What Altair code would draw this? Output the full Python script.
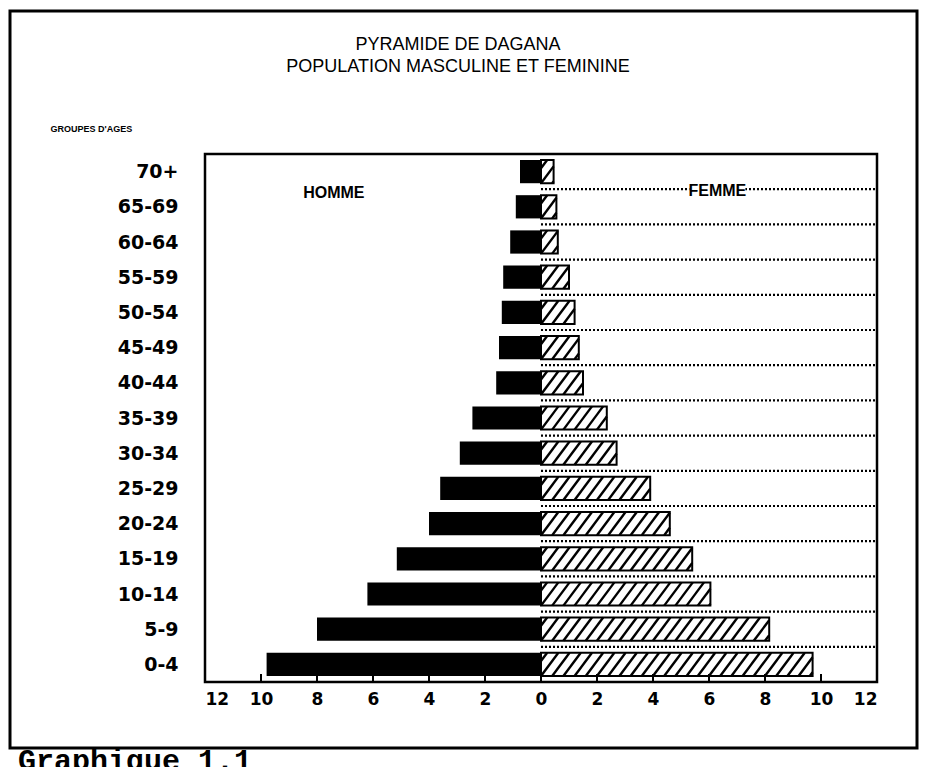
import altair as alt
import pandas as pd

# ---------------- data ----------------
ages = ["0-4", "5-9", "10-14", "15-19", "20-24", "25-29", "30-34", "35-39",
        "40-44", "45-49", "50-54", "55-59", "60-64", "65-69", "70+"]
homme = [9.8, 8.0, 6.2, 5.15, 4.0, 3.6, 2.9, 2.45, 1.6, 1.5, 1.4, 1.35, 1.1, 0.9, 0.75]
femme = [9.7, 8.15, 6.05, 5.4, 4.6, 3.9, 2.7, 2.35, 1.5, 1.35, 1.2, 1.0, 0.6, 0.55, 0.45]
x_ticks = [-12, -10, -8, -6, -4, -2, 0, 2, 4, 6, 8, 10, 12]
inner_ticks = [-10, -8, -6, -4, -2, 0, 2, 4, 6, 8, 10]
title_lines = ["PYRAMIDE DE DAGANA", "POPULATION MASCULINE ET FEMININE"]
y_title = "GROUPES D'AGES"
label_h = "HOMME"
label_f = "FEMME"
caption = "Graphique 1.1"

# ---------------- layout / style ----------------
W, H = 672, 528
HH = 0.33      # half bar thickness (band units)
DX = 0.62      # hatch horizontal run across the bar
STEP = 0.40    # hatch spacing
LABEL_FONT = "DejaVu Sans"
TITLE_FONT = "Liberation Sans Narrow, Liberation Sans"

df = pd.DataFrame({"idx": list(range(len(ages))), "age": ages,
                   "homme": homme, "femme": femme})
one = pd.DataFrame({"k": [0]})

xs = alt.Scale(domain=[-12, 12], nice=False, zero=False)
ys = alt.Scale(domain=[-0.5, len(ages) - 0.5], nice=False, zero=False)
label_expr = "[" + ",".join("'" + a + "'" for a in ages) + "][datum.value]"

X_AXIS = alt.Axis(values=x_ticks, labelExpr="abs(datum.value)", tickCount=30,
                  ticks=False, domain=False, grid=False, labelOverlap=False,
                  labelFont=LABEL_FONT, labelFontSize=17, labelFontWeight="bold",
                  labelColor="black", labelPadding=9, title=None)
Y_AXIS = alt.Axis(values=list(range(len(ages))), labelExpr=label_expr, tickCount=30,
                  ticks=False, domain=False, grid=False, labelOverlap=False,
                  labelFont=LABEL_FONT, labelFontSize=19, labelFontWeight="bold",
                  labelColor="black", labelPadding=27,
                  title=y_title, titleAngle=0, titleAlign="left",
                  titleBaseline="middle", titleX=-155, titleY=-26,
                  titleFont=TITLE_FONT, titleFontSize=9, titleFontWeight="bold",
                  titleColor="black")


def X(field):
    return alt.X(field, scale=xs, axis=X_AXIS, title=None)


def Y(field):
    return alt.Y(field, scale=ys, axis=Y_AXIS, title=y_title)


base = alt.Chart(df).transform_calculate(
    y0=f"datum.idx - {HH}", y1=f"datum.idx + {HH}",
    neg="-datum.homme", zero="0")

men = base.mark_rect(color="black").encode(
    x=X("neg:Q"), x2="zero:Q", y=Y("y0:Q"), y2="y1:Q")

women_bg = base.mark_rect(color="white").encode(
    x=X("zero:Q"), x2="femme:Q", y=Y("y0:Q"), y2="y1:Q")

hatch = alt.Chart(df).transform_calculate(
    s=f"sequence(-{2*STEP}, datum.femme, {STEP})"
).transform_flatten(["s"]).transform_calculate(
    t0=f"max(0, -datum.s/{DX})",
    t1=f"min(1, (datum.femme - datum.s)/{DX})",
).transform_filter("datum.t1 > datum.t0").transform_calculate(
    hx1=f"datum.s + datum.t0*{DX}",
    hx2=f"datum.s + datum.t1*{DX}",
    hy1=f"datum.idx - {HH} + datum.t0*{2*HH}",
    hy2=f"datum.idx - {HH} + datum.t1*{2*HH}",
).mark_rule(color="black", strokeWidth=2.4).encode(
    x=X("hx1:Q"), x2="hx2:Q", y=Y("hy1:Q"), y2="hy2:Q")

women_outline = base.mark_rect(fill=None, fillOpacity=0, stroke="black", strokeWidth=2).encode(
    x=X("zero:Q"), x2="femme:Q", y=Y("y0:Q"), y2="y1:Q")

dots = alt.Chart(pd.DataFrame({"idx": list(range(len(ages) - 1))})).transform_calculate(
    yy="datum.idx + 0.5", xa="0", xb="12"
).mark_rule(color="black", strokeWidth=2.2, strokeDash=[2, 2]).encode(
    x=X("xa:Q"), x2="xb:Q", y=Y("yy:Q"))

ticks = alt.Chart(pd.DataFrame({"t": inner_ticks})).mark_rule(
    color="black", strokeWidth=2).encode(
    x=X("t:Q"), y=alt.value(H), y2=alt.value(H - 8))

femme_bg = alt.Chart(one).mark_rect(color="white").encode(
    x=alt.datum(5.3), x2=alt.datum(7.3), y=alt.datum(13.2), y2=alt.datum(13.75))

txt_h = alt.Chart(one).mark_text(font=TITLE_FONT, fontSize=16, fontWeight="bold",
                                 color="black").encode(
    x=alt.datum(-7.4), y=alt.datum(13.4), text=alt.value(label_h))
txt_f = alt.Chart(one).mark_text(font=TITLE_FONT, fontSize=16, fontWeight="bold",
                                 color="black").encode(
    x=alt.datum(6.3), y=alt.datum(13.45), text=alt.value(label_f))

title = alt.Chart(one).mark_text(font=TITLE_FONT, fontSize=18, color="black",
                                 baseline="top", align="center", lineHeight=22).encode(
    x=alt.value(253), y=alt.value(-118), text=alt.value(title_lines))

frame = alt.Chart(one).mark_rect(fill=None, fillOpacity=0, stroke="black", strokeWidth=3).encode(
    x=alt.value(-195), x2=alt.value(712), y=alt.value(-143), y2=alt.value(594))

cap = alt.Chart(one).mark_text(font="Liberation Mono", fontSize=30, fontWeight="bold",
                               color="black", align="left", baseline="top").encode(
    x=alt.value(-187), y=alt.value(592), text=alt.value(caption))

chart = alt.layer(
    men, frame, dots, femme_bg, women_bg, hatch, women_outline, ticks,
    txt_h, txt_f, title, cap
).properties(
    width=W, height=H,
    background="white",
    autosize=alt.AutoSizeParams(type="none"),
    padding={"left": 197, "top": 146, "right": 43, "bottom": 85},
).configure_view(stroke="black", strokeWidth=2.5).configure_axis(labelOverlap=False)

chart.save("out.html", embed_options={"renderer": "svg", "actions": False})
